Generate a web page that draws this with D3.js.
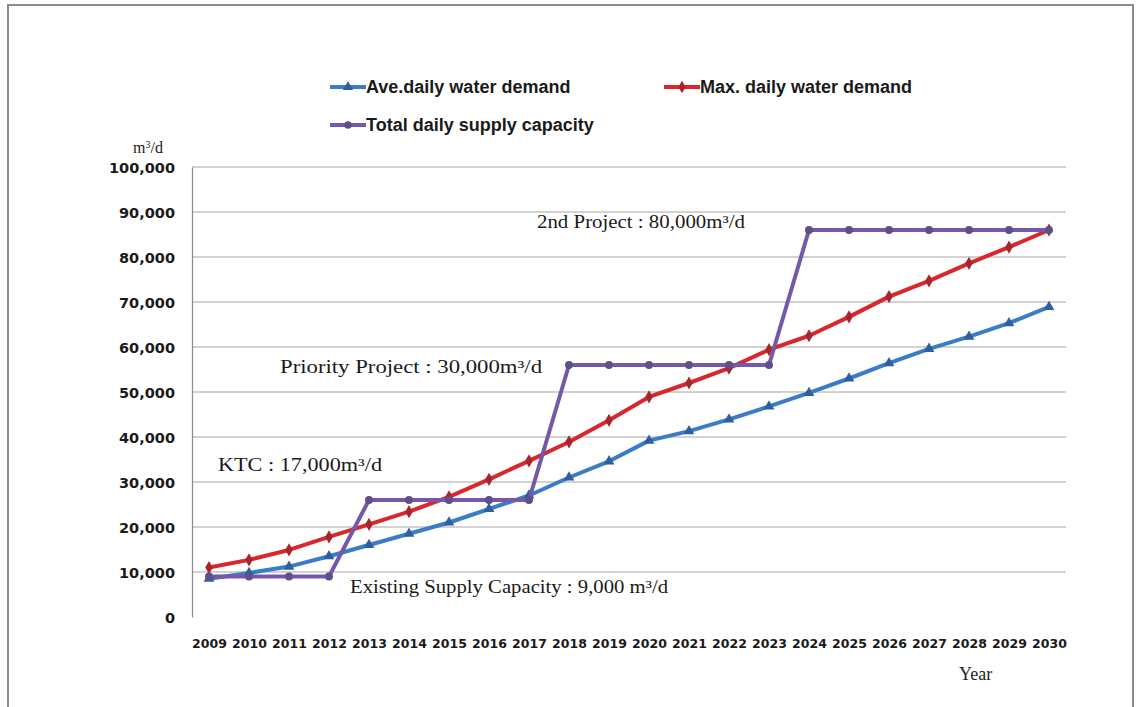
<!DOCTYPE html>
<html><head><meta charset="utf-8">
<script src="https://cdn.jsdelivr.net/npm/d3@7"></script>
<style>body{margin:0;background:#fff}svg{display:block}</style>
</head><body><svg id="c" width="1136" height="707"></svg>
<script>
const years = [2009,2010,2011,2012,2013,2014,2015,2016,2017,2018,2019,2020,2021,2022,2023,2024,2025,2026,2027,2028,2029,2030];
const aveDemand = [8500,9800,11200,13500,16000,18500,21000,24000,27000,31000,34600,39200,41300,43900,46800,49800,53000,56400,59600,62300,65300,68900];
const maxDemand = [11000,12700,14900,17800,20600,23400,26700,30600,34700,38900,43700,48900,52000,55300,59400,62500,66700,71200,74700,78600,82200,86000];
const supplyCap = [9000,9000,9000,9000,26000,26000,26000,26000,26000,56000,56000,56000,56000,56000,56000,86000,86000,86000,86000,86000,86000,86000];
const yTicks = [0,10000,20000,30000,40000,50000,60000,70000,80000,90000,100000];
const seriesNames = ["Ave.daily water demand","Max. daily water demand","Total daily supply capacity"];
const annotationTexts = ["2nd Project : 80,000m³/d","Priority Project : 30,000m³/d","KTC : 17,000m³/d","Existing Supply Capacity : 9,000 m³/d"];

const svg = d3.select("#c");
const L = 192, T = 166, B = 617;
const x = d3.scalePoint().domain(years).range([209,1049]);
const y = d3.scaleLinear().domain([0,100000]).range([B,T+1]);

// outer frame
svg.append("rect").attr("x",8).attr("y",5).attr("width",1125).attr("height",710)
  .attr("fill","#fff").attr("stroke","#8c8c8c").attr("stroke-width",2);

// gridlines
svg.append("g").selectAll("line").data(yTicks.filter(d=>d>0)).join("line")
  .attr("x1",L).attr("x2",1066).attr("y1",d=>y(d)).attr("y2",d=>y(d))
  .attr("stroke","#a6a6a6").attr("stroke-width",1.2);

// y axis
const yAxis = d3.axisLeft(y).tickValues(yTicks).tickSize(0).tickPadding(17)
  .tickFormat(d3.format(","));
const gy = svg.append("g").attr("transform",`translate(${L},0)`).call(yAxis);
gy.select(".domain").attr("stroke","#8c8c8c").attr("stroke-width",1.2);
gy.selectAll("text").attr("font-family","DejaVu Sans").attr("font-weight","bold")
  .attr("font-size",14.5).attr("fill","#1a1a1a").attr("dy","0.35em");

// x axis
const xAxis = d3.axisBottom(x).tickSize(0).tickPadding(22).tickFormat(d3.format("d"));
const gx = svg.append("g").attr("transform",`translate(0,${B})`).call(xAxis);
gx.select(".domain").remove();
gx.selectAll("text").attr("font-family","DejaVu Sans").attr("font-weight","bold")
  .attr("font-size",12.5).attr("fill","#1a1a1a");

// axis titles
svg.append("text").attr("x",133).attr("y",153).attr("font-family","Liberation Serif")
  .attr("font-size",16).attr("fill","#222").html('m<tspan baseline-shift="super" font-size="10">3</tspan>/d');
svg.append("text").attr("x",959).attr("y",680).attr("font-family","Liberation Serif")
  .attr("font-size",18).attr("fill","#222").text("Year");

const series = [
  {name:seriesNames[0], values:aveDemand, color:"#3b7cc6", mcolor:"#2f5f9e", marker:d3.symbolTriangle},
  {name:seriesNames[1], values:maxDemand, color:"#d9272e", mcolor:"#a8262b", marker:d3.symbolDiamond},
  {name:seriesNames[2], values:supplyCap, color:"#7559a8", mcolor:"#5f4f88", marker:d3.symbolCircle}
];

const line = d3.line().x((d,i)=>x(years[i])).y(d=>y(d));
series.forEach(s=>{
  svg.append("path").datum(s.values).attr("d",line).attr("fill","none")
    .attr("stroke",s.color).attr("stroke-width",4).attr("stroke-linejoin","round");
  svg.append("g").selectAll("path").data(s.values).join("path")
    .attr("transform",(d,i)=>`translate(${x(years[i])},${y(d)})`)
    .attr("d",d3.symbol().type(s.marker).size(50)).attr("fill",s.mcolor);
});

// annotations (pixel placement)
const annoLayout = [
  {x:537, y:228, w:208},
  {x:280, y:373, w:262},
  {x:218, y:471, w:164},
  {x:350, y:593, w:318}
];
annotationTexts.forEach((t,i)=>{
  const a = annoLayout[i];
  svg.append("text").attr("x",a.x).attr("y",a.y).attr("font-family","Liberation Serif")
    .attr("font-size",18).attr("fill","#1a1a1a")
    .attr("textLength",a.w).attr("lengthAdjust","spacingAndGlyphs").text(t);
});

// legend
const legendItems = [
  {s:series[0], x:330, y:87},
  {s:series[1], x:664, y:87},
  {s:series[2], x:330, y:125}
];
legendItems.forEach(li=>{
  const g = svg.append("g").attr("transform",`translate(${li.x},${li.y})`);
  g.append("line").attr("x1",0).attr("x2",36).attr("y1",0).attr("y2",0)
    .attr("stroke",li.s.color).attr("stroke-width",4);
  g.append("path").attr("transform","translate(18,0)")
    .attr("d",d3.symbol().type(li.s.marker).size(45)).attr("fill",li.s.mcolor);
  g.append("text").attr("x",36).attr("y",0).attr("dy","0.35em")
    .attr("font-family","Liberation Sans Narrow, Liberation Sans").attr("font-weight","bold")
    .attr("font-size",18).attr("fill","#1a1a1a").text(li.s.name);
});
</script></body></html>
